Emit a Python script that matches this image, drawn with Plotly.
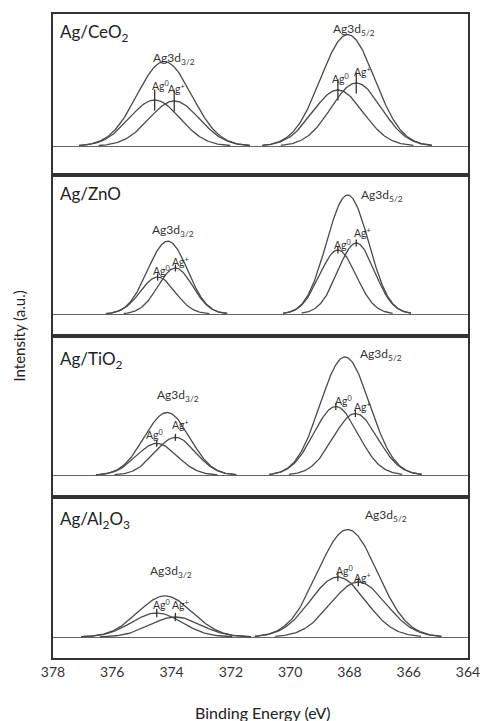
import numpy as np
import plotly.graph_objects as go
from plotly.subplots import make_subplots

# Catalyst samples, one panel each (top to bottom)
samples = ["Ag/CeO<sub>2</sub>", "Ag/ZnO", "Ag/TiO<sub>2</sub>", "Ag/Al<sub>2</sub>O<sub>3</sub>"]

# Fitted Ag 3d components: peak centre (eV), height (a.u.)
ag0_32_center = [374.57, 374.47, 374.50, 374.50]
ag0_32_height = [46, 37, 32, 24]
agp_32_center = [373.91, 373.87, 373.87, 373.87]
agp_32_height = [45, 46, 38, 20]
ag0_52_center = [368.39, 368.39, 368.46, 368.39]
ag0_52_height = [56, 64, 69, 60]
agp_52_center = [367.77, 367.77, 367.80, 367.70]
agp_52_height = [63, 71, 62, 55]
# Component FWHM (eV) for the 3d3/2 and 3d5/2 doublet lines
fwhm_32 = [2.00, 1.37, 1.61, 2.00]
fwhm_52 = [2.00, 1.45, 1.76, 2.20]

x_ticks = [378, 376, 374, 372, 370, 368, 366, 364]

# Label anchors (eV, a.u.)
lab32_pos = [(374.70, 88), (374.73, 84), (374.57, 80), (374.80, 66)]
lab52_pos = [(368.62, 117), (367.67, 119), (367.70, 121), (367.53, 122)]
ag0_32_lab = [(374.73, 61), (374.70, 44), (374.93, 41), (374.70, 33)]
agp_32_lab = [(374.20, 58), (374.04, 53), (374.07, 51), (374.04, 33)]
ag0_52_lab = [(368.66, 68), (368.59, 70), (368.56, 75), (368.52, 67)]
agp_52_lab = [(367.93, 75), (367.90, 82), (367.90, 69), (367.93, 60)]
sample_lab_y = [113, 121, 116, 117]
y_ranges = [(-29, 132), (-22, 139), (-22, 140), (-21, 140)]

FONT = "Lato, 'Open Sans', sans-serif"
CURVE = "#4a4a4a"
FRAME = "#333333"
tick_size = [15, 5, 5, 6]


def gauss(x, c, h, fwhm):
    s = fwhm / 2.3548
    return h * np.exp(-0.5 * ((x - c) / s) ** 2)


def doublet(fig, row, c0, h0, c1, h1, fwhm, msize):
    s = fwhm / 2.3548
    lo = min(c0, c1) - 3 * s
    hi = max(c0, c1) + 3 * s
    xe = np.linspace(lo, hi, 200)
    env = gauss(xe, c0, h0, fwhm) + gauss(xe, c1, h1, fwhm)
    fig.add_trace(go.Scatter(x=xe, y=env, mode="lines",
                             line=dict(color=CURVE, width=1.3),
                             hoverinfo="skip", showlegend=False), row=row, col=1)
    for c, h in ((c0, h0), (c1, h1)):
        xc = np.linspace(c - 3 * s, c + 3 * s, 160)
        fig.add_trace(go.Scatter(x=xc, y=gauss(xc, c, h, fwhm), mode="lines",
                                 line=dict(color=CURVE, width=1.3),
                                 hoverinfo="skip", showlegend=False), row=row, col=1)
        fig.add_trace(go.Scatter(x=[c], y=[h], mode="markers",
                                 marker=dict(symbol="line-ns", size=msize,
                                             line=dict(color=FRAME, width=1.3)),
                                 hoverinfo="skip", showlegend=False), row=row, col=1)


fig = make_subplots(rows=4, cols=1, shared_xaxes=True, vertical_spacing=0)

for i in range(4):
    r = i + 1
    doublet(fig, r, ag0_32_center[i], ag0_32_height[i],
            agp_32_center[i], agp_32_height[i], fwhm_32[i], tick_size[i])
    doublet(fig, r, ag0_52_center[i], ag0_52_height[i],
            agp_52_center[i], agp_52_height[i], fwhm_52[i], tick_size[i])

    ax = "" if r == 1 else str(r)
    xref, yref = "x" + ax, "y" + ax

    fig.add_annotation(x=0.012, xref="paper", y=sample_lab_y[i], yref=yref,
                       text=samples[i], showarrow=False, xanchor="left",
                       yanchor="middle", font=dict(size=17, color="#222"))
    fig.add_annotation(x=lab32_pos[i][0], y=lab32_pos[i][1], xref=xref, yref=yref,
                       text="Ag3d<sub>3/2</sub>", showarrow=False, xanchor="left",
                       yanchor="middle", font=dict(size=12, color="#333"))
    fig.add_annotation(x=lab52_pos[i][0], y=lab52_pos[i][1], xref=xref, yref=yref,
                       text="Ag3d<sub>5/2</sub>", showarrow=False, xanchor="left",
                       yanchor="middle", font=dict(size=12, color="#333"))
    for pos, sup in ((ag0_32_lab[i], "0"), (agp_32_lab[i], "+"),
                     (ag0_52_lab[i], "0"), (agp_52_lab[i], "+")):
        fig.add_annotation(x=pos[0], y=pos[1], xref=xref, yref=yref,
                           text="Ag<sup>" + sup + "</sup>", showarrow=False,
                           xanchor="left", yanchor="middle",
                           font=dict(size=10.5, color="#333"))

    fig.update_yaxes(range=list(y_ranges[i]), showticklabels=False, ticks="",
                     showgrid=False, zeroline=True, zerolinecolor="#666",
                     zerolinewidth=1.3, showline=True, mirror=True,
                     linecolor=FRAME, linewidth=2, row=r, col=1)

fig.update_xaxes(range=[378, 364], tickvals=x_ticks, ticks="", showgrid=False,
                 zeroline=False, showline=True, mirror=True, linecolor=FRAME,
                 linewidth=2, tickfont=dict(size=14, color="#333"))

fig.add_annotation(x=-0.083, xref="paper", y=0.5, yref="paper",
                   text="Intensity (a.u.)", textangle=-90, showarrow=False,
                   xanchor="center", yanchor="middle",
                   font=dict(size=15, color="#222"))
fig.add_annotation(x=0.505, xref="paper", y=-0.084, yref="paper",
                   text="Binding Energy (eV)", showarrow=False, yanchor="middle",
                   font=dict(size=16, color="#222"))

fig.update_layout(width=492, height=721, margin=dict(l=53, r=15, t=13, b=63),
                  paper_bgcolor="white", plot_bgcolor="white",
                  font=dict(family=FONT, color="#333"), showlegend=False)

fig.write_html("out.html")
